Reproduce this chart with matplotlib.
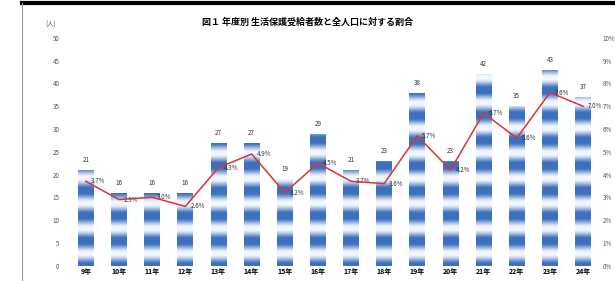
import numpy as np
import matplotlib
matplotlib.use("Agg")
import matplotlib.pyplot as plt
from matplotlib.lines import Line2D

plt.rcParams['font.family'] = ['Noto Sans CJK JP', 'DejaVu Sans']

# data (estimated)
years = ["9年", "10年", "11年", "12年", "13年", "14年", "15年", "16年",
         "17年", "18年", "19年", "20年", "21年", "22年", "23年", "24年"]
counts = [21, 16, 16, 16, 27, 27, 19, 29, 21, 23, 38, 23, 42, 35, 43, 37]
ratios = [3.7, 2.9, 3.0, 2.6, 4.3, 4.9, 3.2, 4.5, 3.7, 3.6, 5.7, 4.2, 6.7, 5.6, 7.6, 7.0]
title = "図１ 年度別 生活保護受給者数と全人口に対する割合"

fig = plt.figure(figsize=(6.15, 2.81), dpi=100)
ax = fig.add_axes([0.11, 0.055, 0.865, 0.81])
ax2 = ax.twinx()

x = np.arange(len(years))
bars = ax.bar(x, counts, width=0.48, color="#6b93cf", edgecolor="none", zorder=2)

# striped blue texture, like the Excel fill
period = 5.5
col = np.linspace(0, 1, 60)
band = np.clip(0.55 + 0.6 * np.cos(2 * np.pi * col), 0, 1)
stripe = np.ones((60, 3))
dark = np.array([0.24, 0.44, 0.74])
light = np.array([0.95, 0.97, 1.0])
for i in range(60):
    stripe[i] = dark * band[i] + light * (1 - band[i])
for b in bars:
    h = b.get_height()
    n = int(np.ceil(h / period)) + 1
    img = np.tile(stripe, (n, 1)).reshape(n * 60, 1, 3)
    im = ax.imshow(img, extent=(b.get_x(), b.get_x() + b.get_width(), 0, n * period),
                   aspect="auto", origin="lower", zorder=3, interpolation="bilinear")
    im.set_clip_path(b)
    ax.text(b.get_x() + b.get_width() / 2, h + 1.3, f"{h:g}", ha="center", va="bottom",
            fontsize=4.5, color="#333333")

ax.set_xlim(-0.55, len(years) - 0.5)
ax.set_ylim(0, 50)
ax.set_yticks(np.arange(0, 51, 5))
ax.set_xticks(x)
ax.set_xticklabels(years, fontsize=5, fontweight="bold")
ax.tick_params(axis="y", labelsize=4.5, length=0, colors="#555555", pad=6)
ax.tick_params(axis="x", length=0, pad=2)
ax.set_aspect("auto")

ax2.plot(x, ratios, color="#d93535", lw=1.1, zorder=5)
for xi, r in zip(x, ratios):
    ax2.text(xi + 0.15, r, f"{r:.1f}%", fontsize=4.5, color="#333333", va="center", ha="left")
ax2.set_ylim(0, 10)
ax2.set_yticks(np.arange(0, 11, 1))
ax2.set_yticklabels([f"{v}%" for v in range(0, 11)])
ax2.tick_params(axis="y", labelsize=4.5, length=0, colors="#555555", pad=2)

for a in (ax, ax2):
    for s in a.spines.values():
        s.set_visible(False)

ax.text(-0.9, 52.5, "(人)", fontsize=4.5, color="#555555", ha="right")
fig.text(0.5, 0.92, title, ha="center", va="center", fontsize=6.5, fontweight="bold")

# screenshot frame
fig.add_artist(Line2D([0.035, 1], [0.99, 0.99], color="black", lw=3, transform=fig.transFigure))
fig.add_artist(Line2D([0.036, 0.036], [0, 0.99], color="#999999", lw=0.8, transform=fig.transFigure))

fig.savefig("out.png", dpi=100)
